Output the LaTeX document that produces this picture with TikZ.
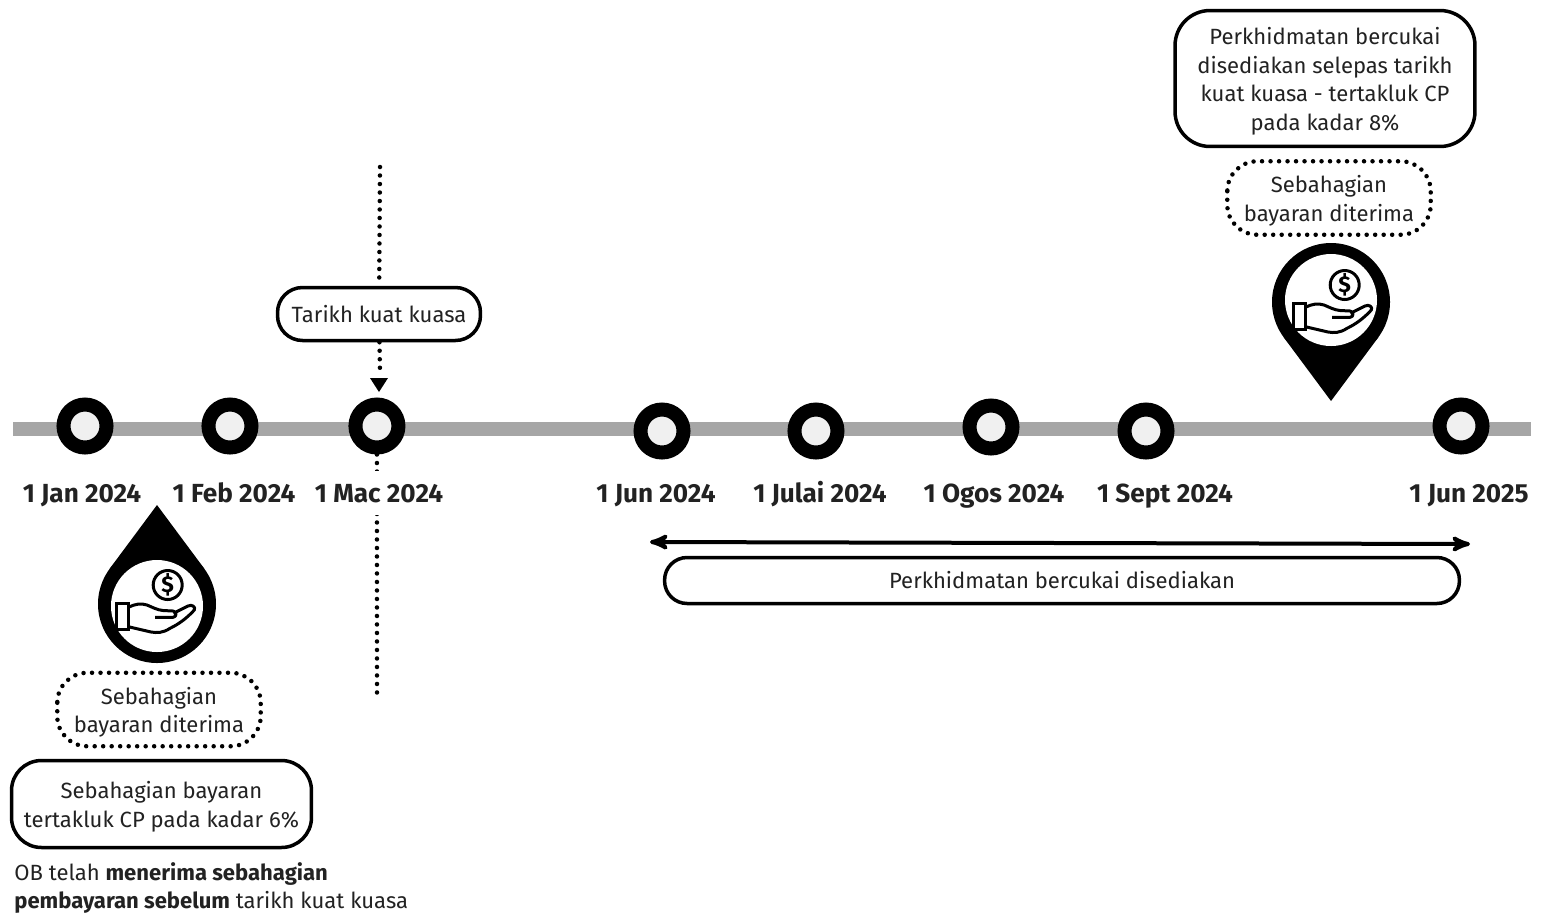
\documentclass[tikz,border=0pt]{standalone}
\usepackage{fontspec}
\setmainfont{Fira Sans}
\usetikzlibrary{arrows}
\definecolor{axisgray}{HTML}{A6A6A6}
\definecolor{holegray}{HTML}{F0F0F0}
\definecolor{inkgray}{HTML}{222222}
\newcommand{\notetop}{\rule{0pt}{13pt}}

\tikzset{
  coin hand/.pic={
    \draw[line width=.06cm] (10.7,-21) circle [radius=14.5];
    \node[font=\fontsize{13}{13}\selectfont\bfseries] (-dollar) at (10.7,-21) {\$};
    \draw[line width=.06cm] (-40.3,-2.7) rectangle (-28.7,23.3);
    \draw[line width=.06cm,line join=round]
      (-28.7,1.3) .. controls (-22,-2) and (-16,-3) .. (-10,-1)
      .. controls (-5,1) and (0,4) .. (6,4.5) -- (16,5)
      .. controls (20,5.5) and (20,11) .. (16,11.3) -- (-2,11.3)
      (16.3,7.3) -- (31,0) .. controls (35,-2) and (39,1) .. (37.3,4)
      .. controls (30,12) and (22,18) .. (13,22.3)
      .. controls (6,27) and (0,27) .. (-6,26)
      -- (-28.7,20.7);
  },
  hand pin/.pic={
    \fill (0,{#1*99}) -- (47.4,{#1*35.2}) -- (-47.4,{#1*35.2}) -- cycle;
    \fill (0,0) circle [radius=59];
    \fill[white] (0,{-#1*2}) circle [radius=46];
  }
}

\begin{document}
\begin{tikzpicture}[x=.02cm,y=-.02cm,>=stealth',
  tick node/.style={circle,draw=black,fill=holegray,line width=.28cm,minimum size=.86cm,inner sep=0pt},
  date node/.style={anchor=base,inner sep=0pt,text=inkgray,font=\fontsize{14.9}{18}\selectfont\bfseries},
  note node/.style={draw=black,fill=white,line width=.07cm,align=center,inner sep=0pt,text=inkgray,
    font=\fontsize{12.55}{16.4}\selectfont},
  dot line/.style={line width=.09cm,line cap=round,dash pattern=on 0pt off .17cm}]

  \useasboundingbox (0,0) rectangle (1541,914);

  \coordinate (axis start) at (13,429);
  \coordinate (axis end) at (1531,429);
  \coordinate (dot top) at (380,167);
  \coordinate (dot bottom) at (377,694);
  \coordinate (span start) at (650,542);
  \coordinate (span end) at (1470,544);

  \draw[axisgray,line width=.28cm] (axis start) -- (axis end);

  \node[tick node] (jan) at (85,426) {};
  \node[tick node] (feb) [right of=jan,node distance=2.9cm] {};
  \node[tick node] (mac) [right of=feb,node distance=2.94cm] {};
  \node[tick node] (jun) at (662,431) {};
  \node[tick node] (jul) [right of=jun,node distance=3.08cm] {};
  \node[tick node] (ogos) at (991,427) {};
  \node[tick node] (sept) at (1146,431) {};
  \node[tick node] (jun25) at (1461,426) {};

  % dotted marker through 1 Mac
  \node[note node,minimum width=4.06cm,minimum height=1.06cm,rounded corners=.5cm] (kuat) at (379,314) {Tarikh kuat kuasa};
  \draw[dot line] (dot top) -- (kuat);
  \draw[dot line] (kuat) -- (380,372);
  \fill (370,378) -- (388,378) -- (379,392) -- cycle;
  \draw[dot line] (mac.south) -- (dot bottom);

  \node[date node] (jan date) at (82,502) {1 Jan 2024};
  \node[date node] (feb date) at (234,502) {1 Feb 2024};
  \node[date node,fill=white,inner ysep=.25cm] (mac date) at (379,502) {1 Mac 2024};
  \node[date node] (jun date) at (656,502) {1 Jun 2024};
  \node[date node] (jul date) at (820,502) {1 Julai 2024};
  \node[date node] (ogos date) at (994,502) {1 Ogos 2024};
  \node[date node] (sept date) at (1165,502) {1 Sept 2024};
  \node[date node] (jun25 date) at (1469,502) {1 Jun 2025};

  \draw[<->,line width=.08cm] (span start) -- (span end);
  \node[note node,minimum width=15.9cm,minimum height=.92cm,rounded corners=.45cm] (span) at (1062,580.5) {Perkhidmatan bercukai disediakan};

  % left pin, tip up
  \pic (pin a) at (157,604) {hand pin=-1};
  \pic (hand a) at (157,606) {coin hand};
  \node[note node,draw=none,minimum width=4cm,minimum height=1.4cm] (part a) at (159,709.5) {\notetop Sebahagian\\bayaran diterima};
  \draw[dot line,rounded corners=.6cm] (part a.north west) rectangle (part a.south east);
  \node[note node,minimum width=6cm,minimum height=1.74cm,rounded corners=.6cm] (cp six) at (161.5,804) {\notetop Sebahagian bayaran\\tertakluk CP pada kadar 6\%};
  \node[anchor=west,align=left,inner sep=0pt,text=inkgray,font=\fontsize{12.55}{15.6}\selectfont] (ob note) at (14,888) {OB telah \textbf{menerima sebahagian}\\\textbf{pembayaran sebelum} tarikh kuat kuasa};

  % right pin, tip down
  \pic (pin b) at (1331,302) {hand pin=1};
  \pic (hand b) at (1334,306) {coin hand};
  \node[note node,draw=none,minimum width=4cm,minimum height=1.4cm] (part b) at (1329,198) {\notetop Sebahagian\\bayaran diterima};
  \draw[dot line,rounded corners=.6cm] (part b.north west) rectangle (part b.south east);
  \node[note node,minimum width=6cm,minimum height=2.72cm,rounded corners=.7cm] (cp eight) at (1325,78.5) {\notetop Perkhidmatan bercukai\\disediakan selepas tarikh\\kuat kuasa - tertakluk CP\\pada kadar 8\%};
\end{tikzpicture}
\end{document}
